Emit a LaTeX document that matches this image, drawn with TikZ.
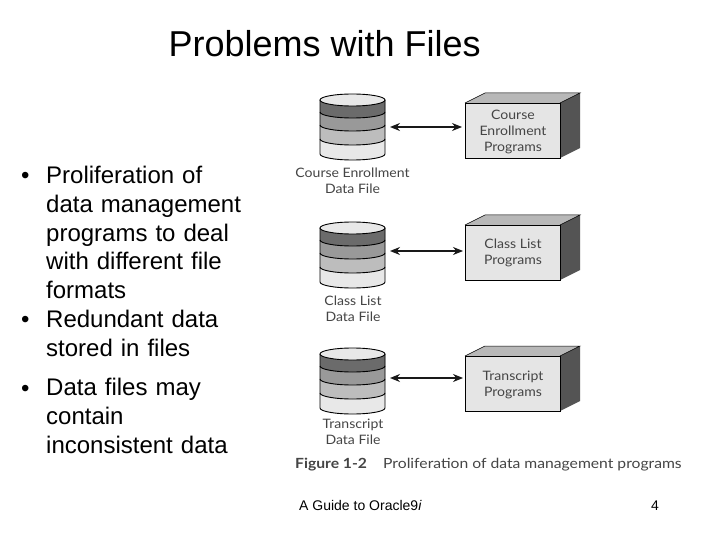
\documentclass[tikz,border=0pt]{standalone}
\usepackage{fontspec}
\setmainfont{Liberation Sans}
\newfontfamily\figfont[FakeStretch=1.08]{Lato}
\newfontfamily\capfont[FakeStretch=1.12]{Lato}
\usetikzlibrary{arrows.meta}
\definecolor{bandA}{gray}{0.42}
\definecolor{bandB}{gray}{0.60}
\definecolor{bandC}{gray}{0.74}
\definecolor{bandD}{gray}{0.91}
\definecolor{boxfront}{gray}{0.90}
\definecolor{boxside}{gray}{0.33}
\definecolor{boxtop}{gray}{0.72}
\definecolor{figtext}{gray}{0.27}
\tikzset{
  figlabel/.style={align=center,font=\figfont\fontsize{13}{15.7}\selectfont,text=figtext,inner sep=0pt},
  boxlabel/.style={figlabel},
  bullettext/.style={anchor=north west,align=left,inner sep=0pt,font=\fontsize{24}{28.8}\selectfont,text width=210pt},
  bulletmark/.style={anchor=base west,inner sep=0pt,font=\fontsize{24}{28.8}\selectfont},
  biarrow/.style={{Stealth[length=10pt,width=8pt]}-{Stealth[length=10pt,width=8pt]},line width=1.2pt,black!90},
  pics/dbfile/.style={code={
    \fill[bandD] (320,100) -- (385,100) -- (385,154) arc[start angle=0,end angle=180,x radius=32.5,y radius=6] -- cycle;
    \fill[bandC] (320,100) -- (385,100) -- (385,139) arc[start angle=0,end angle=180,x radius=32.5,y radius=6] -- cycle;
    \fill[bandB] (320,100) -- (385,100) -- (385,125) arc[start angle=0,end angle=180,x radius=32.5,y radius=6] -- cycle;
    \fill[bandA] (320,100) -- (385,100) -- (385,112) arc[start angle=0,end angle=180,x radius=32.5,y radius=6] -- cycle;
    \draw[line width=.9pt] (320,112) arc[start angle=180,end angle=0,x radius=32.5,y radius=6];
    \draw[line width=.9pt] (320,125) arc[start angle=180,end angle=0,x radius=32.5,y radius=6];
    \draw[line width=.9pt] (320,139) arc[start angle=180,end angle=0,x radius=32.5,y radius=6];
    \draw[line width=.9pt] (320,100) -- (320,154) arc[start angle=180,end angle=0,x radius=32.5,y radius=6] -- (385,100);
    \draw[line width=.9pt,fill=bandD] (352.5,100) ellipse[x radius=32.5,y radius=6];
  }},
  pics/progbox/.style={code={
    \fill[boxtop] (465,103) -- (485,93) -- (580,93) -- (560,103) -- cycle;
    \fill[boxside] (560,103) -- (580,93) -- (580,148) -- (560,158) -- cycle;
    \draw[fill=boxfront,line width=.6pt] (465,103) rectangle (560,158);
    \draw[line width=.5pt] (465,103) -- (485,93) -- (580,93) -- (560,103);
  }}
}
\begin{document}
\begin{tikzpicture}[x=1pt,y=-1pt]
\useasboundingbox (0,0) rectangle (720,540);
\fill[white] (0,0) rectangle (720,540);
\node[anchor=base west,inner sep=0pt,font=\fontsize{36}{40}\selectfont] (title) at (168.5,57) {Problems with Files};
\node[bulletmark] (bula) at (21,183.5) {•};
\node[bulletmark] (bulb) at (21,327.5) {•};
\node[bulletmark] (bulc) at (21,396) {•};
\node[bullettext] (ta) at (46,166) {Proliferation of\\data management\\programs to deal\\with different file\\formats};
\node[bullettext] (tb) at (46,310) {Redundant data\\stored in files};
\node[bullettext] (tc) at (46,378) {Data files may\\contain\\inconsistent data};

\pic at (0,0) {dbfile};
\pic at (0,0) {progbox};
\pic at (0,128) {dbfile};
\pic at (0,122) {progbox};
\pic at (0,254) {dbfile};
\pic at (0,253) {progbox};

\coordinate (a1) at (390,127); \coordinate (b1) at (462,127);
\coordinate (a2) at (390,251); \coordinate (b2) at (463,251);
\coordinate (a3) at (390,378); \coordinate (b3) at (463,378);
\draw[biarrow] (a1) -- (b1);
\draw[biarrow] (a2) -- (b2);
\draw[biarrow] (a3) -- (b3);

\node[figlabel] (l1) at (352.5,180.5) {Course Enrollment\\Data File};
\node[figlabel] (l2) at (353,309) {Class List\\Data File};
\node[figlabel] (l3) at (353,432) {Transcript\\Data File};
\node[boxlabel] (p1) at (513,132) {Course\\Enrollment\\Programs};
\node[boxlabel] (p2) at (513,253) {Class List\\Programs};
\node[boxlabel] (p3) at (513,385) {Transcript\\Programs};

\node[anchor=base west,inner sep=0pt,font=\capfont\bfseries\fontsize{14}{16}\selectfont,text=figtext] (fig) at (295,468) {Figure 1-2};
\node[anchor=base west,inner sep=0pt,font=\capfont\fontsize{14}{16}\selectfont,text=figtext] (cap) at (383,468) {Proliferation of data management programs};

\node[anchor=base west,inner sep=0pt,font=\fontsize{14}{16}\selectfont] (foot) at (299,510) {A Guide to Oracle9\textit{i}};
\node[anchor=base west,inner sep=0pt,font=\fontsize{14}{16}\selectfont] (num) at (651,510) {4};
\end{tikzpicture}
\end{document}
